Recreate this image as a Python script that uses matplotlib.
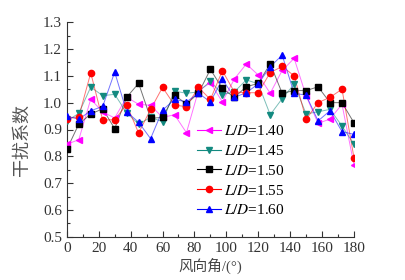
import numpy as np
import matplotlib
matplotlib.use('Agg')
import matplotlib.pyplot as plt
import matplotlib.ticker as ticker

plt.rcParams['font.family'] = ['Liberation Serif', 'Noto Sans CJK SC']
plt.rcParams['mathtext.fontset'] = 'stix'

# wind angle, 7.5 deg steps
angle = np.arange(0, 180.1, 7.5)

ld_140 = [0.845, 0.862, 1.013, 0.965, 0.943, 1.020, 0.994, 0.990, 0.945, 0.955, 0.888, 1.045, 1.074,
          1.003, 1.088, 1.144, 1.103, 1.035, 1.120, 1.165, 1.025, 0.923, 0.939, 0.994, 0.768]
ld_145 = [0.932, 0.960, 1.058, 1.026, 1.031, 0.962, 0.920, 0.945, 0.929, 1.043, 1.035, 1.040, 1.080,
          1.030, 1.040, 1.085, 1.070, 0.955, 1.015, 1.069, 0.958, 0.966, 0.975, 0.913, 0.845]
ld_150 = [0.826, 0.920, 0.958, 0.977, 0.903, 1.020, 1.072, 0.942, 0.945, 1.028, 0.995, 1.035, 1.124,
          1.053, 1.020, 1.059, 1.072, 1.145, 1.035, 1.045, 1.045, 1.059, 1.000, 1.000, 0.925]
ld_155 = [0.940, 0.948, 1.111, 0.935, 0.937, 0.992, 0.887, 0.975, 1.057, 0.991, 0.985, 1.057, 1.012,
          1.119, 1.040, 1.037, 1.037, 1.112, 1.135, 1.100, 0.938, 1.000, 1.020, 1.050, 0.795]
ld_160 = [0.950, 0.938, 0.970, 0.986, 1.114, 0.966, 0.927, 0.866, 0.972, 1.012, 1.003, 1.035, 1.003,
          1.087, 1.020, 1.037, 1.070, 1.134, 1.177, 1.035, 1.028, 0.932, 0.970, 0.892, 0.882]

labels = ['1.40', '1.45', '1.50', '1.55', '1.60']
colors = ['#ff00ff', '#138a80', '#000000', '#ff0000', '#0000ff']
markers = ['<', 'v', 's', 'o', '^']

fig = plt.figure(figsize=(4.05, 2.80), dpi=100)
ax = fig.add_axes([0.165, 0.154, 0.709, 0.767])

for vals, lab, c, m in zip([ld_140, ld_145, ld_150, ld_155, ld_160], labels, colors, markers):
    ax.plot(angle, vals, color=c, lw=0.7, alpha=0.55, zorder=2)
    ax.plot(angle, vals, ls='none', marker=m, ms=4.5, mfc=c, mec=c, zorder=3)
    ax.plot([], [], color=c, lw=0.8, marker=m, ms=4.5, label=r'$\mathit{L/D}$=' + lab)

ax.set_xlim(0, 180)
ax.set_ylim(0.5, 1.3)
ax.xaxis.set_major_locator(ticker.MultipleLocator(20))
ax.xaxis.set_minor_locator(ticker.MultipleLocator(10))
ax.yaxis.set_major_locator(ticker.MultipleLocator(0.1))
ax.yaxis.set_minor_locator(ticker.MultipleLocator(0.05))
ax.yaxis.set_major_formatter(ticker.FormatStrFormatter('%.1f'))
ax.tick_params(which='both', direction='in', labelsize=11, colors='#333333', width=0.8)
ax.tick_params(which='major', length=4)
ax.tick_params(which='minor', length=2)
ax.spines['top'].set_visible(False)
ax.spines['right'].set_visible(False)
ax.spines['left'].set_color('#333333')
ax.spines['bottom'].set_color('#333333')
ax.set_facecolor('none')

ax.set_ylabel('干扰系数', fontsize=13, color='#555555')
ax.yaxis.set_label_coords(-0.125, 0.45)
ax.set_xlabel('风向角/(°)', fontsize=10.5, color='#444444', labelpad=2)

ax.legend(loc='upper left', bbox_to_anchor=(0.46, 0.595), bbox_transform=fig.transFigure,
          frameon=False, fontsize=11, handlelength=1.6, handletextpad=0.2, labelspacing=0.38,
          borderpad=0.2)

fig.savefig('out.png', dpi=100)
